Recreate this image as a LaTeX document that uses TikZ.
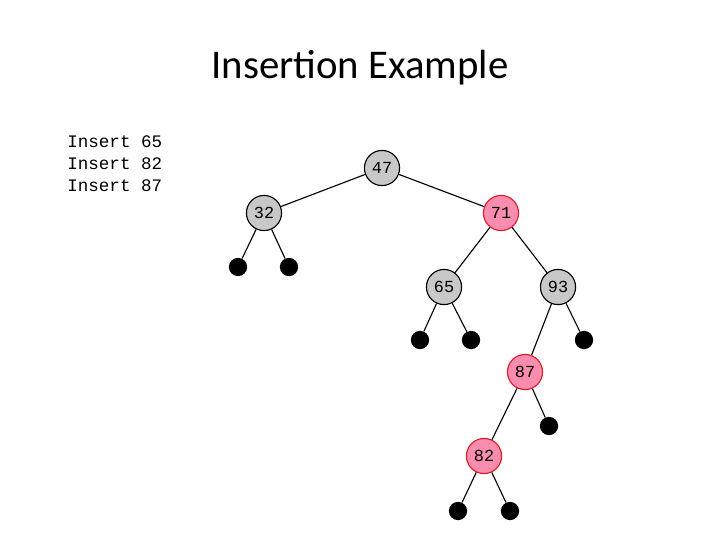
\documentclass[tikz,border=0pt]{standalone}
\usepackage{fontspec}
\setmainfont{Carlito}
\setmonofont{Liberation Mono}
\definecolor{nodegray}{RGB}{200,200,200}
\definecolor{nodepink}{RGB}{250,140,175}
\definecolor{nodered}{RGB}{220,30,40}
\tikzset{
  blk/.style={circle,draw=black,thick,fill=nodegray,minimum size=25pt,inner sep=0pt,font=\ttfamily\fontsize{12}{12}\selectfont},
  red/.style={blk,draw=nodered,fill=nodepink},
  nil/.style={circle,fill=black,minimum size=13pt,inner sep=0pt},
  edge/.style={thick}
}
\begin{document}
\begin{tikzpicture}[x=0.025cm,y=-0.025cm]
	\useasboundingbox (0,0) rectangle (720,540);
	\node (title) at (360,68) {\fontsize{29}{29}\selectfont Insertion Example};
	\node[anchor=west,align=left,font=\ttfamily\fontsize{12.5}{15.6}\selectfont,inner sep=0pt] (ops) at (67,164) {Insert 65\\Insert 82\\Insert 87};
	% tree nodes
	\node[blk] (n47) at (382,168) {47};
	\node[blk] (n32) at (264,213) {32};
	\node[red] (n71) at (501,213) {71};
	\node[blk] (n65) at (444,287) {65};
	\node[blk] (n93) at (558,287) {93};
	\node[red] (n87) at (525,372) {87};
	\node[red] (n82) at (484,456) {82};
	% leaves
	\node[nil] (l1) at (238,267) {};
	\node[nil] (l2) at (289,267) {};
	\node[nil] (l3) at (420,340) {};
	\node[nil] (l4) at (471,340) {};
	\node[nil] (l5) at (584,340) {};
	\node[nil] (l6) at (549,426) {};
	\node[nil] (l7) at (458,511) {};
	\node[nil] (l8) at (510,511) {};
	% edges
	\draw[edge] (n47) -- (n32);
	\draw[edge] (n47) -- (n71);
	\draw[edge] (n32) -- (l1);
	\draw[edge] (n32) -- (l2);
	\draw[edge] (n71) -- (n65);
	\draw[edge] (n71) -- (n93);
	\draw[edge] (n65) -- (l3);
	\draw[edge] (n65) -- (l4);
	\draw[edge] (n93) -- (n87);
	\draw[edge] (n93) -- (l5);
	\draw[edge] (n87) -- (n82);
	\draw[edge] (n87) -- (l6);
	\draw[edge] (n82) -- (l7);
	\draw[edge] (n82) -- (l8);
\end{tikzpicture}
\end{document}
